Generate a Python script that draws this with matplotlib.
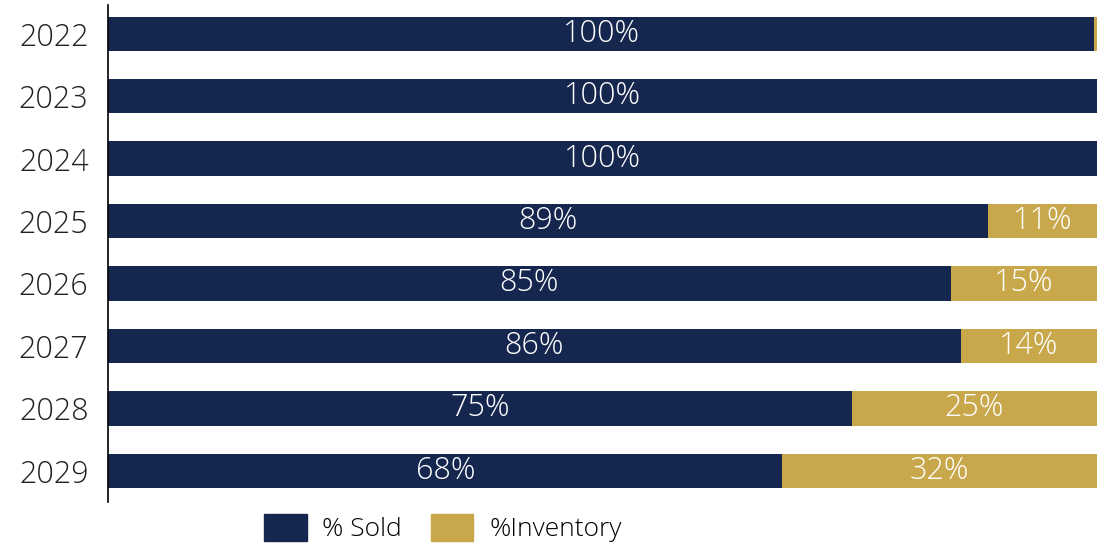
import matplotlib.pyplot as plt
from matplotlib.patches import Patch

years = ["2022", "2023", "2024", "2025", "2026", "2027", "2028", "2029"]
sold = [99.7, 100, 100, 89, 85.2, 86.2, 75.2, 68.2]
inventory = [0.3, 0, 0, 11, 14.8, 13.8, 24.8, 31.8]
sold_labels = ["100%", "100%", "100%", "89%", "85%", "86%", "75%", "68%"]
inv_labels = ["", "", "", "11%", "15%", "14%", "25%", "32%"]

NAVY = "#15264f"
GOLD = "#c9a84c"

plt.rcParams["font.family"] = ["Open Sans", "DejaVu Sans"]
plt.rcParams["font.weight"] = 300

fig = plt.figure(figsize=(11.02, 5.48), dpi=100)
ax = fig.add_axes([108 / 1102, 1 - 502 / 548, 989 / 1102, 497 / 548])

y = list(range(len(years)))
ax.barh(y, sold, height=0.55, color=NAVY)
ax.barh(y, inventory, left=sold, height=0.55, color=GOLD)

for i in y:
    ax.text(sold[i] / 2, i, sold_labels[i], ha="center", va="center",
            color="white", fontsize=22, fontweight=300)
    if inv_labels[i]:
        ax.text(sold[i] + inventory[i] / 2, i, inv_labels[i], ha="center",
                va="center", color="white", fontsize=22, fontweight=300)

ax.set_xlim(0, 100)
ax.set_ylim(7.5, -0.46)
ax.set_yticks(y)
ax.set_yticklabels(years, fontsize=22, color="#222222", fontweight=300)
ax.tick_params(axis="y", length=0, pad=14)
ax.set_xticks([])
for s in ["top", "right", "bottom"]:
    ax.spines[s].set_visible(False)
ax.spines["left"].set_color("black")
ax.spines["left"].set_linewidth(1.2)

handles = [Patch(color=NAVY, label="% Sold"), Patch(color=GOLD, label="%Inventory")]
fig.legend(handles=handles, loc="center", bbox_to_anchor=(443 / 1102, 1 - 528 / 548),
           ncol=2, frameon=False, handlelength=1.6, handleheight=1.2,
           handletextpad=0.6, columnspacing=1.1, prop={"size": 19, "weight": 300})

fig.savefig("out.png", dpi=100)
